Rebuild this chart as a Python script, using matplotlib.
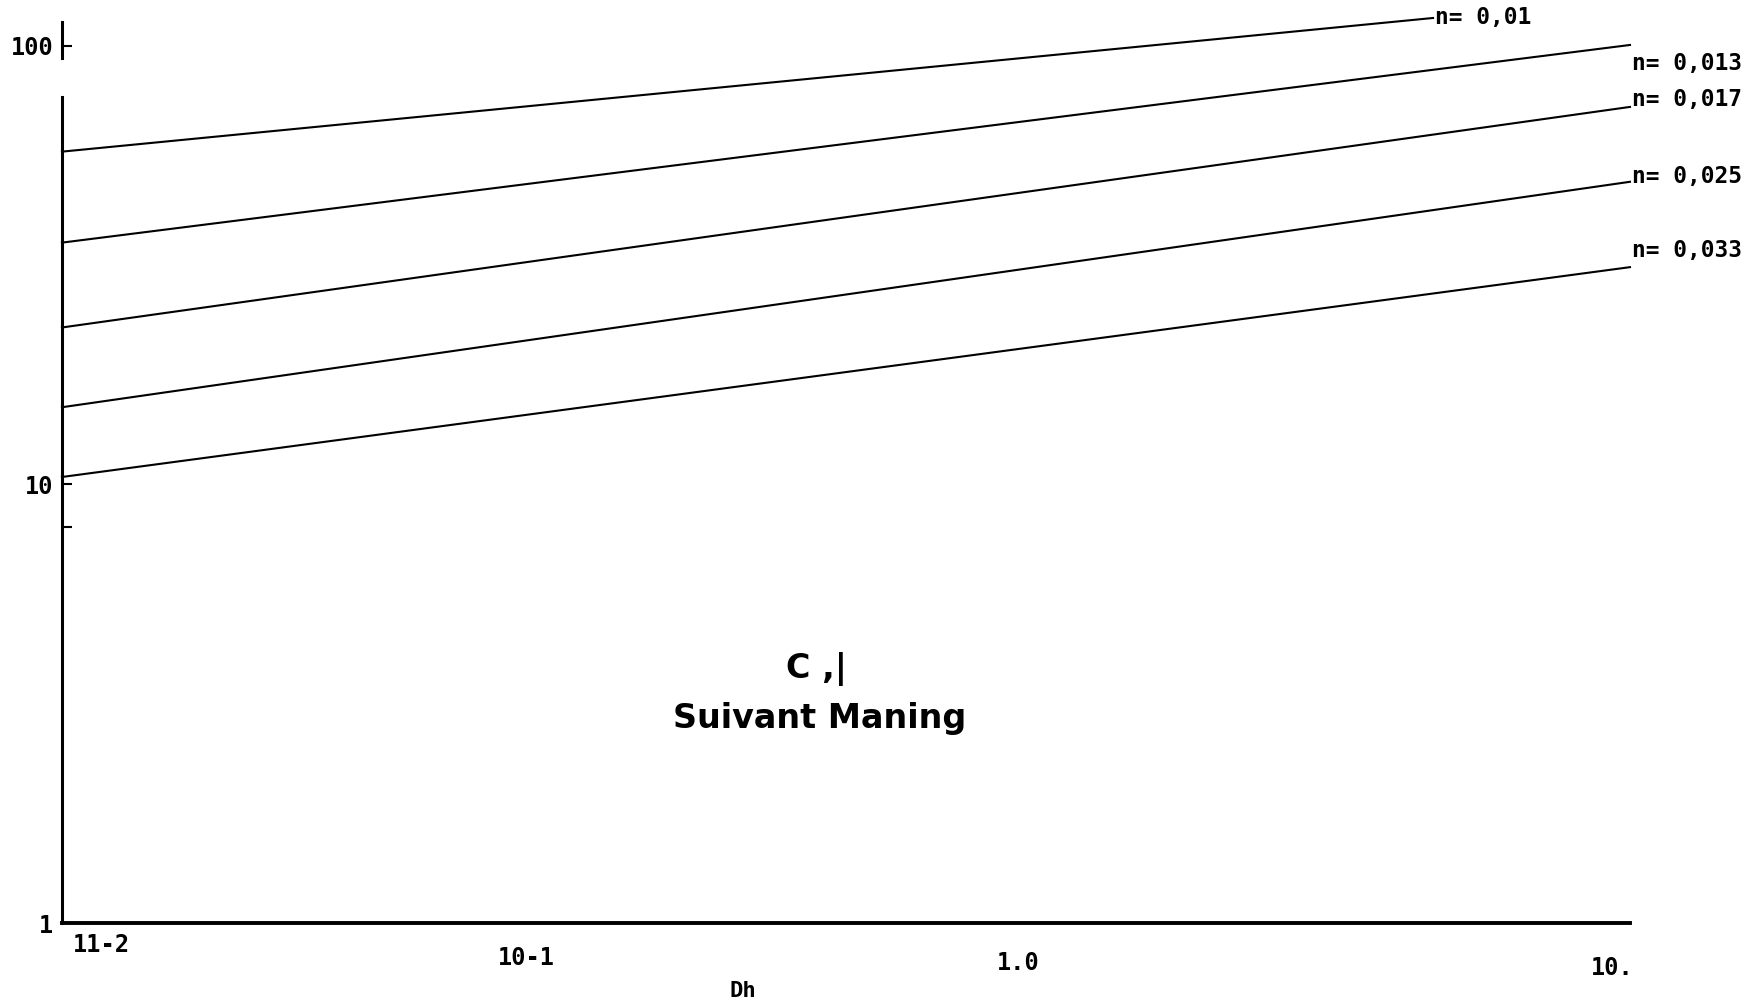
#!/usr/bin/env python
"""
Coefficient de Chezy C suivant Manning, en fonction de Dh (log-log)
"""
import numpy as np
import matplotlib
matplotlib.use("Agg")
import matplotlib.pyplot as plt

# ---------- data ----------
n_labels = ["n= 0,01", "n= 0,013", "n= 0,017", "n= 0,025", "n= 0,033"]
dh_start = [0.01, 0.01, 0.01, 0.01, 0.01]
dh_end   = [4.2, 10.0, 10.0, 10.0, 10.0]
c_start  = [57.4, 35.6, 22.8, 15.0, 10.4]
c_end    = [115.8, 100.5, 72.6, 49.0, 31.3]

y_ticks  = [1, 10, 100]
y_labels = ["1", "10", "100"]
x_labels = ["11-2", "10-1", "1.0", "10."]

# ---------- layout ----------
label_dy = [0, -13, 5, 3.5, 12]              # points, vertical nudge of curve labels
x_label_x = [0.025, 0.296, 0.610, 0.989]     # axes fraction, as printed on the plotter
x_label_y = [-0.025, -0.040, -0.046, -0.051]

MONO = "DejaVu Sans Mono"

fig = plt.figure(figsize=(17.54, 10.07), dpi=100)
ax = fig.add_axes([0.0353, 0.0834, 0.894, 0.871])
ax.set_xscale("log")
ax.set_yscale("log")
ax.set_xlim(0.01, 10)
ax.set_ylim(1, 100)

for x0, x1, c0, c1, lab, dy in zip(dh_start, dh_end, c_start, c_end, n_labels, label_dy):
    ax.plot([x0, x1], [c0, c1], color="black", lw=1.5, clip_on=False)
    ax.annotate(lab, (x1, c1), xytext=(1.5, dy), textcoords="offset points",
                ha="left", va="center", fontsize=16.5, fontweight="bold",
                family=MONO, annotation_clip=False)

# axes frame: only left and bottom, thick plotter pen (left pen skipped near the top)
for side in ("top", "right", "left"):
    ax.spines[side].set_visible(False)
ax.spines["bottom"].set_linewidth(2.8)
ax.axvline(0.01, ymin=0, ymax=0.942, color="black", lw=2.2, clip_on=False)
ax.axvline(0.01, ymin=0.986, ymax=1.027, color="black", lw=2.2, clip_on=False)

ax.set_yticks(y_ticks)
ax.set_yticklabels(y_labels, family=MONO, fontweight="bold", fontsize=17)
ax.set_yticks([8], minor=True)
ax.yaxis.set_minor_formatter(matplotlib.ticker.NullFormatter())
ax.tick_params(axis="y", which="both", direction="in", length=7, width=1.5, pad=6)

ax.set_xticks([])
ax.set_xticks([], minor=True)
for lab, xp, yp in zip(x_labels, x_label_x, x_label_y):
    ax.text(xp, yp, lab, transform=ax.transAxes, ha="center", va="center",
            family=MONO, fontweight="bold", fontsize=17)

ax.set_xlabel("Dh", family=MONO, fontweight="bold", fontsize=16)
ax.xaxis.set_label_coords(0.434, -0.066)

ax.text(0.481, 0.279, "C ,|", transform=ax.transAxes, ha="center", va="baseline",
        fontsize=24, fontweight="bold")
ax.text(0.483, 0.222, "Suivant Maning", transform=ax.transAxes, ha="center", va="baseline",
        fontsize=24, fontweight="bold")

plt.savefig("out.png", dpi=100)
plt.close()
